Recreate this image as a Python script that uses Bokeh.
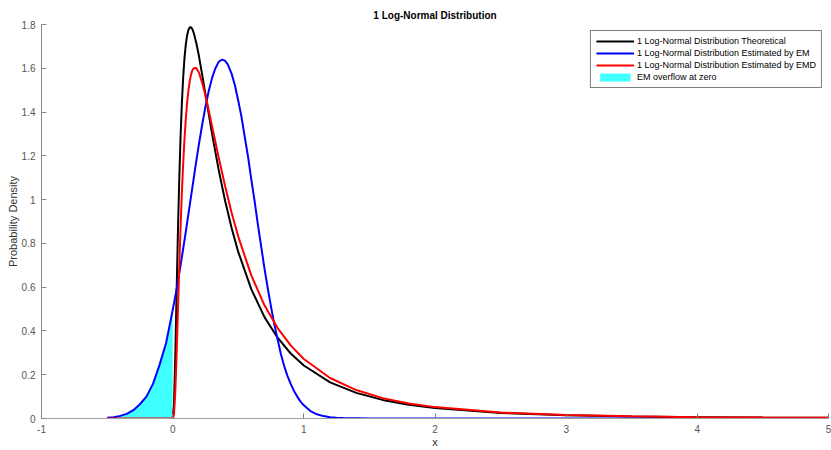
from bokeh.plotting import figure
from bokeh.models import Range1d, FixedTicker, Legend, LegendItem
from bokeh.embed import file_html
from bokeh.resources import INLINE

# ---- data ----
x_ticks = [-1, 0, 1, 2, 3, 4, 5]
x_tick_labels = ["-1", "0", "1", "2", "3", "4", "5"]
y_ticks = [0, 0.2, 0.4, 0.6, 0.8, 1.0, 1.2, 1.4, 1.6, 1.8]
y_tick_labels = ["0", "0.2", "0.4", "0.6", "0.8", "1", "1.2", "1.4", "1.6", "1.8"]

theo_x = [0.0, 0.01, 0.02, 0.03, 0.04, 0.05, 0.06, 0.07, 0.08, 0.09, 0.10, 0.11,
          0.12, 0.13, 0.14, 0.15, 0.16, 0.18, 0.20, 0.23, 0.26, 0.30, 0.35, 0.40,
          0.45, 0.50, 0.6, 0.7, 0.8, 0.9, 1.0, 1.2, 1.4, 1.6, 1.8, 2.0, 2.5, 3.0,
          3.5, 4.0, 4.5, 5.0]
theo_y = [0.0, 0.060, 0.288, 0.574, 0.851, 1.088, 1.285, 1.439, 1.557, 1.646,
          1.708, 1.750, 1.775, 1.787, 1.787, 1.779, 1.763, 1.716, 1.657, 1.553,
          1.445, 1.302, 1.138, 0.994, 0.869, 0.761, 0.590, 0.463, 0.369, 0.297,
          0.242, 0.165, 0.117, 0.085, 0.063, 0.048, 0.025, 0.015, 0.009, 0.006,
          0.004, 0.003]

em_x = [-0.5, -0.45, -0.4, -0.35, -0.3, -0.25, -0.2, -0.15, -0.1, -0.05, 0.0,
        0.025, 0.05, 0.075, 0.1, 0.125, 0.15, 0.175, 0.2, 0.225, 0.25, 0.275,
        0.3, 0.325, 0.35, 0.36, 0.38, 0.4, 0.42, 0.45, 0.475, 0.5, 0.525, 0.55,
        0.575, 0.6, 0.625, 0.65, 0.675, 0.7, 0.725, 0.75, 0.775, 0.8, 0.825,
        0.85, 0.875, 0.9, 0.925, 0.95, 0.975, 1.0, 1.05, 1.1, 1.15, 1.2, 1.25,
        1.3, 1.5, 2.0, 3.0, 4.0, 5.0]
em_y = [0.003, 0.006, 0.012, 0.021, 0.038, 0.065, 0.100, 0.158, 0.245, 0.345,
        0.495, 0.574, 0.662, 0.756, 0.853, 0.954, 1.055, 1.156, 1.252, 1.342,
        1.425, 1.496, 1.555, 1.599, 1.628, 1.634, 1.640, 1.634, 1.618, 1.574,
        1.521, 1.452, 1.377, 1.285, 1.195, 1.090, 0.992, 0.885, 0.785, 0.685,
        0.595, 0.510, 0.430, 0.362, 0.295, 0.240, 0.195, 0.158, 0.126, 0.100,
        0.077, 0.060, 0.034, 0.019, 0.011, 0.006, 0.003, 0.002, 0.0, 0.0, 0.0,
        0.0, 0.0]

emd_x = [-0.5, 0.0, 0.01, 0.02, 0.03, 0.04, 0.05, 0.06, 0.07, 0.08, 0.09, 0.10,
         0.11, 0.12, 0.13, 0.14, 0.15, 0.16, 0.18, 0.20, 0.23, 0.26, 0.30, 0.35,
         0.40, 0.45, 0.50, 0.6, 0.7, 0.8, 0.9, 1.0, 1.2, 1.4, 1.6, 1.8, 2.0,
         2.5, 3.0, 3.5, 4.0, 4.5, 5.0]
emd_y = [0.0, 0.0, 0.017, 0.120, 0.292, 0.490, 0.687, 0.869, 1.028, 1.163,
         1.276, 1.367, 1.442, 1.498, 1.541, 1.571, 1.591, 1.600, 1.601, 1.581,
         1.524, 1.449, 1.337, 1.195, 1.061, 0.939, 0.831, 0.653, 0.517, 0.413,
         0.334, 0.272, 0.185, 0.130, 0.093, 0.069, 0.052, 0.027, 0.016, 0.010,
         0.006, 0.004, 0.003]

labels = ["1 Log-Normal Distribution Theoretical",
          "1 Log-Normal Distribution Estimated by EM",
          "1 Log-Normal Distribution Estimated by EMD",
          "EM overflow at zero"]

FONT = "Liberation Sans"

p = figure(width=831, height=450, output_backend="svg", toolbar_location=None,
           x_range=Range1d(-1, 5), y_range=Range1d(0, 1.8),
           min_border_left=41, min_border_right=3, min_border_top=24,
           min_border_bottom=31)

p.title.text = "1 Log-Normal Distribution"
p.title.align = "center"
p.title.text_font = FONT
p.title.text_font_size = "10px"
p.title.text_font_style = "bold"
p.title.text_color = "#000000"
p.title.standoff = 8
p.title.offset = 0

p.outline_line_color = None
p.xgrid.visible = False
p.ygrid.visible = False

# fill of the EM part below zero
fill_x = [xv for xv in em_x if xv <= 0]
fill_y = [yv for xv, yv in zip(em_x, em_y) if xv <= 0]
r_fill = p.varea(x=fill_x, y1=[0] * len(fill_x), y2=fill_y, fill_color="#40ffff")

r_theo = p.line(theo_x, theo_y, line_color="#000000", line_width=2)
r_em = p.line(em_x, em_y, line_color="#0000ff", line_width=2)
r_emd = p.line(emd_x, emd_y, line_color="#ff0000", line_width=2)

legend = Legend(items=[LegendItem(label=labels[0], renderers=[r_theo]),
                       LegendItem(label=labels[1], renderers=[r_em]),
                       LegendItem(label=labels[2], renderers=[r_emd]),
                       LegendItem(label=labels[3], renderers=[r_fill])],
                location="top_right")
legend.label_text_font = FONT
legend.label_text_font_size = "9px"
legend.label_text_color = "#000000"
legend.label_height = 10
legend.glyph_height = 10
legend.glyph_width = 38
legend.spacing = 2
legend.padding = 5
legend.margin = 6
legend.label_standoff = 3
legend.border_line_color = "#000000"
legend.border_line_width = 1
legend.background_fill_color = "#ffffff"
legend.background_fill_alpha = 1
p.add_layout(legend)

for ax, ticks, tl in ((p.xaxis[0], x_ticks, x_tick_labels), (p.yaxis[0], y_ticks, y_tick_labels)):
    ax.ticker = FixedTicker(ticks=ticks)
    ax.major_label_overrides = {t: s for t, s in zip(ticks, tl)}
    ax.minor_tick_line_color = None
    ax.major_tick_in = 5
    ax.major_tick_out = 0
    ax.major_label_text_font = FONT
    ax.major_label_text_font_size = "10px"
    ax.major_label_text_color = "#555555"
    ax.axis_label_text_font = FONT
    ax.axis_label_text_font_size = "11px"
    ax.axis_label_text_font_style = "normal"
    ax.axis_label_text_color = "#333333"
    ax.axis_label_standoff = 0

p.xaxis.axis_label = "x"
p.yaxis.axis_label = "Probability Density"
p.xaxis.axis_line_color = "#a0a0a0"
p.xaxis.major_tick_line_color = "#808080"
p.yaxis.axis_line_color = "#8a8a8a"
p.yaxis.major_tick_line_color = "#8a8a8a"
p.xaxis.major_label_standoff = 6
p.yaxis.major_label_standoff = 6

open("out.html", "w").write(file_html(p, INLINE))
